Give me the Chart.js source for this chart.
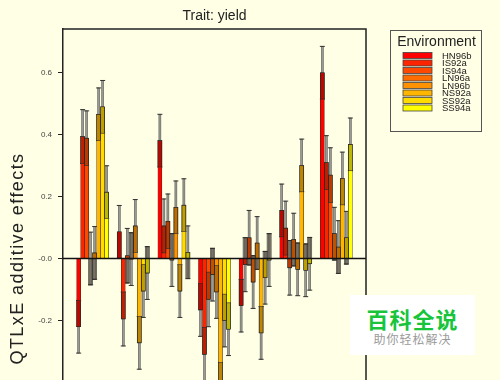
<!DOCTYPE html>
<html><head><meta charset="utf-8">
<script src="https://cdn.jsdelivr.net/npm/chart.js@4"></script>
<style>
html,body{margin:0;padding:0;background:#FFFFE5;overflow:hidden;width:500px;height:380px}
#wrap{position:relative;width:500px;height:510px}
canvas{display:block}
#wm{position:absolute;left:350px;top:295px;width:125px;height:60px;background:#fff;text-align:center;font-family:"Noto Sans CJK SC",sans-serif}
#wm .a{color:#17C43A;font-size:22px;font-weight:bold;line-height:26px;margin-top:10px;letter-spacing:1px}
#wm .b{color:#9a9a9a;font-size:12px;line-height:16px;letter-spacing:1px}
</style></head>
<body><div id="wrap"><canvas id="c" width="500" height="510"></canvas>
<div id="wm"><div class="a">百科全说</div><div class="b">助你轻松解决</div></div></div>
<script>
const chartTitle = 'Trait: yield';
const yTitle = 'QTLxE additive effects';
const legendTitle = 'Environment';
const qtls = ['QTL1','QTL2','QTL3','QTL4','QTL5','QTL6','QTL7'];
const envs = ['HN96b','IS92a','IS94a','LN96a','LN96b','NS92a','SS92a','SS94a'];
const envColors = ['#FF0000','#FF2400','#FF4900','#FF6D00','#FF9200','#FFB600','#FFDB00','#FFFF00'];
const HN96b = [-0.220, 0.086, 0.380, -0.166, -0.152, 0.155, 0.599];
const IS92a = [0.393, -0.195, 0.105, -0.309, -0.020, 0.098, 0.309];
const IS94a = [0.388, 0.009, 0.120, -0.132, 0.067, -0.030, 0.269];
const LN96a = [0.000, -0.002, -0.005, -0.052, -0.076, 0.061, 0.080];
const LN96b = [0.018, 0.105, 0.165, -0.108, 0.050, -0.035, 0.037];
const NS92a = [0.465, -0.272, -0.105, -0.420, -0.240, 0.300, 0.258];
const SS92a = [0.489, -0.105, 0.172, -0.200, -0.062, -0.038, 0.067];
const SS94a = [0.214, -0.047, 0.020, -0.228, -0.005, -0.017, 0.368];
const seByEnv = [0.085, 0.087, 0.088, 0.085, 0.085, 0.085, 0.085, 0.085];
const yTickValues = [-0.6, -0.4, -0.2, 0.0, 0.2, 0.4, 0.6];
const yTickLabels = ['-0.6', '-0.4', '-0.2', '-0.0', '0.2', '0.4', '0.6'];
const series = [HN96b, IS92a, IS94a, LN96a, LN96b, NS92a, SS92a, SS94a];

const FONT = "'Liberation Sans', Arial, sans-serif";

const deco = {
  id: 'deco',
  beforeDatasetsDraw(chart) {
    const ctx = chart.ctx, ys = chart.scales.y;
    ctx.save();
    chart.data.datasets.forEach((ds, di) => {
      const meta = chart.getDatasetMeta(di);
      const s = seByEnv[di];
      meta.data.forEach((el, i) => {
        const v = series[di][i];
        const yt = ys.getPixelForValue(v + s), yb = ys.getPixelForValue(v - s);
        ctx.fillStyle = '#9a9a92';
        ctx.fillRect(el.x - 1, yt, 2, yb - yt);
        ctx.strokeStyle = '#4a4a4a';
        ctx.lineWidth = 0.5;
        ctx.strokeRect(el.x - 1, yt, 2, yb - yt);
        ctx.strokeStyle = '#333';
        ctx.lineWidth = 1;
        ctx.beginPath();
        ctx.moveTo(el.x - 2.5, yt); ctx.lineTo(el.x + 2.5, yt);
        ctx.moveTo(el.x - 2.5, yb); ctx.lineTo(el.x + 2.5, yb);
        ctx.stroke();
      });
    });
    ctx.restore();
  },
  afterDatasetsDraw(chart) {
    const ctx = chart.ctx, ys = chart.scales.y, ca = chart.chartArea;
    ctx.save();
    chart.data.datasets.forEach((ds, di) => {
      const meta = chart.getDatasetMeta(di);
      const s = seByEnv[di];
      meta.data.forEach((el, i) => {
        const v = series[di][i];
        const sg = v < 0 ? -1 : 1;
        const y1 = ys.getPixelForValue(v), y2 = ys.getPixelForValue(v - sg * s);
        const top = Math.min(y1, y2), h = Math.abs(y2 - y1);
        ctx.fillStyle = 'rgba(40,20,0,0.3)';
        ctx.fillRect(el.x - 2, top, 4, h);
        ctx.strokeStyle = '#2a2a2a';
        ctx.lineWidth = 0.6;
        ctx.strokeRect(el.x - 2, top, 4, h);
      });
    });
    const y0 = ys.getPixelForValue(0);
    ctx.strokeStyle = '#111';
    ctx.lineWidth = 1.5;
    ctx.beginPath();
    ctx.moveTo(ca.left, y0); ctx.lineTo(ca.right, y0);
    ctx.stroke();
    ctx.strokeStyle = '#222';
    ctx.lineWidth = 1.5;
    ctx.beginPath();
    ctx.moveTo(ca.left, ca.top); ctx.lineTo(ca.right, ca.top); ctx.lineTo(ca.right, chart.height);
    ctx.stroke();
    ctx.restore();
  },
  afterDraw(chart) {
    const ctx = chart.ctx, ca = chart.chartArea;
    ctx.save();
    ctx.fillStyle = '#222';
    ctx.font = '14px ' + FONT;
    ctx.textAlign = 'center';
    ctx.textBaseline = 'alphabetic';
    ctx.fillText(chartTitle, (ca.left + ca.right) / 2, 20);
    ctx.save();
    ctx.translate(18, (ca.top + ca.bottom) / 2);
    ctx.rotate(-Math.PI / 2);
    ctx.font = '18px ' + FONT;
    const w = ctx.measureText(yTitle).width;
    const target = 212;
    if ('letterSpacing' in ctx) ctx.letterSpacing = Math.max(0, (target - w) / yTitle.length).toFixed(2) + 'px';
    ctx.textAlign = 'center';
    ctx.textBaseline = 'middle';
    ctx.fillStyle = '#222';
    ctx.fillText(yTitle, 0, 0);
    ctx.restore();
    const lx = 390.5, ly = 30.5, lw = 91, lh = 101;
    ctx.strokeStyle = '#555';
    ctx.lineWidth = 1;
    ctx.strokeRect(lx, ly, lw, lh);
    ctx.fillStyle = '#222';
    ctx.font = '14px ' + FONT;
    ctx.textAlign = 'center';
    ctx.textBaseline = 'alphabetic';
    ctx.fillText(legendTitle, 436.5, 46);
    ctx.font = '9.5px ' + FONT;
    ctx.textAlign = 'left';
    ctx.textBaseline = 'middle';
    envs.forEach((e, i) => {
      const cy = 55.5 + i * 7.5;
      ctx.fillStyle = envColors[i];
      ctx.fillRect(403, cy - 3, 29, 6);
      ctx.strokeStyle = '#444';
      ctx.lineWidth = 0.8;
      ctx.strokeRect(403, cy - 3, 29, 6);
      ctx.fillStyle = '#222';
      ctx.fillText(e, 442, cy + 0.5);
    });
    ctx.restore();
  }
};

new Chart(document.getElementById('c'), {
  type: 'bar',
  data: {
    datasets: envs.map((e, i) => ({
      label: e,
      data: series[i].map((v, j) => ({ x: j + 1, y: v })),
      backgroundColor: envColors[i],
      borderColor: '#3a2a14',
      borderWidth: 0.6,
      barThickness: 4
    }))
  },
  options: {
    responsive: false,
    devicePixelRatio: 1,
    animation: false,
    events: [],
    layout: { padding: { left: 0, top: 29, right: 134, bottom: 22 } },
    plugins: { legend: { display: false }, title: { display: false }, tooltip: { enabled: false } },
    scales: {
      x: { type: 'linear', min: 0.27, max: 7.73, display: false, offset: false },
      y: {
        min: -0.74, max: 0.74,
        afterFit(scale) { scale.width = 63; },
        afterBuildTicks(scale) { scale.ticks = yTickValues.map(v => ({ value: v })); },
        border: { display: true, color: '#222', width: 1.5 },
        grid: { drawOnChartArea: false, drawTicks: true, tickLength: 5, color: '#222', lineWidth: 1 },
        ticks: {
          padding: 6, color: '#444', font: { size: 8, family: FONT },
          callback: (v) => { const k = yTickValues.findIndex(t => Math.abs(t - v) < 1e-9); return k >= 0 ? yTickLabels[k] : ''; }
        }
      }
    }
  },
  plugins: [deco]
});
</script>
</body></html>
